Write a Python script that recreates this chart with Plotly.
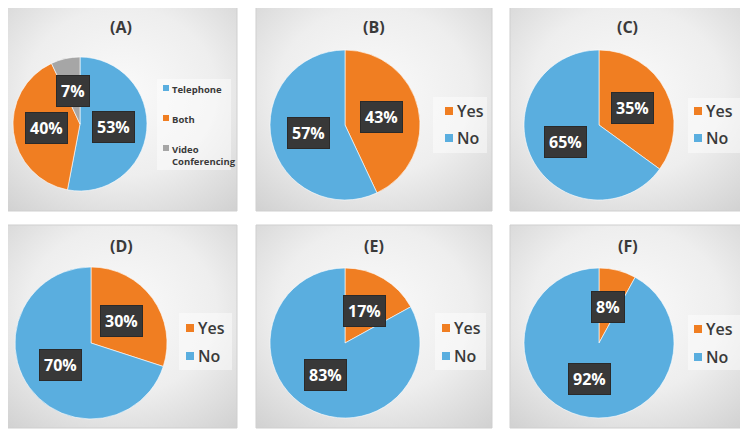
import math
import urllib.parse

import plotly.graph_objects as go

# ---- data ----
panel_titles = ["(A)", "(B)", "(C)", "(D)", "(E)", "(F)"]
mode_labels = ["Telephone", "Both", "Video Conferencing"]
mode_values = [53, 40, 7]
yes_no_labels = ["Yes", "No"]
yes_values = [43, 35, 30, 17, 8]
no_values = [57, 65, 70, 83, 92]

BLUE = "#5AAEDF"
ORANGE = "#F07E22"
GRAY = "#A6A6A6"
TXT = "#3a3a3a"
FONT = "Open Sans"

# the page body has an 8px margin, so the figure is 8px smaller than the window
OFF = 8
W, H = 748 - OFF, 434 - OFF

# layout in page pixels: panel frames, pies (cx, cy, r), legends
panels = [(6, 6, 237, 211), (256, 6, 492, 211), (510, 6, 745, 211),
          (6, 225, 237, 428), (256, 225, 492, 428), (510, 225, 745, 428)]
pies = [(80, 124, 67), (345, 125, 75), (599, 125, 75),
        (91, 343, 76), (345, 343, 75), (599, 343, 75)]
# box, square x, text x, row centres
legends = [((157, 79, 231, 170), 163, 170, [88, 118, 148]),
           ((433, 97, 487, 153), 445, 455, [111, 138]),
           ((688, 98, 740, 153), 694, 704, [111, 138]),
           ((179, 313, 232, 370), 186, 196, [328, 356]),
           ((435, 313, 486, 370), 442, 452, [328, 356]),
           ((688, 315, 740, 370), 694, 704, [329, 357])]


def px(x):
    return (x - OFF) / W


def py(y):
    return 1 - (y - OFF) / H


svg = ("<svg xmlns='http://www.w3.org/2000/svg' width='200' height='200'>"
       "<defs><radialGradient id='g' cx='50%' cy='42%' r='75%'>"
       "<stop offset='0' stop-color='#fafafa'/>"
       "<stop offset='0.55' stop-color='#eeeeee'/>"
       "<stop offset='1' stop-color='#d2d2d2'/></radialGradient></defs>"
       "<rect width='200' height='200' fill='url(#g)'/></svg>")
bg_src = "data:image/svg+xml;charset=utf-8," + urllib.parse.quote(svg)

fig = go.Figure()
images, shapes, annotations = [], [], []

series = [(mode_labels, mode_values, [BLUE, ORANGE, GRAY])]
for y_v, n_v in zip(yes_values, no_values):
    series.append((yes_no_labels, [y_v, n_v], [ORANGE, BLUE]))

for i, (labels, values, colors) in enumerate(series):
    x0, y0, x1, y1 = panels[i]
    cx, cy, r = pies[i]

    images.append(dict(source=bg_src, xref="paper", yref="paper", x=px(x0), y=py(y0),
                       sizex=px(x1) - px(x0), sizey=py(y0) - py(y1),
                       sizing="stretch", layer="below"))
    shapes.append(dict(type="rect", xref="paper", yref="paper", x0=px(x0), x1=px(x1),
                       y0=py(y1), y1=py(y0), line=dict(color="#cfcfcf", width=1)))
    annotations.append(dict(text="<b>" + panel_titles[i] + "</b>", xref="paper", yref="paper",
                            x=px((x0 + x1) / 2), y=py(y0 + 21), xanchor="center",
                            yanchor="middle", showarrow=False,
                            font=dict(family=FONT, size=16, color=TXT)))

    fig.add_trace(go.Pie(
        labels=labels, values=values, sort=False, direction="clockwise", rotation=0,
        marker=dict(colors=colors, line=dict(color="rgba(255,255,255,0.6)", width=1)),
        textinfo="none", hoverinfo="label+percent", showlegend=False,
        domain=dict(x=[px(cx - r), px(cx + r)], y=[py(cy + r), py(cy - r)]),
    ))

    # data labels: dark boxes at half radius on each slice's mid angle
    total = sum(values)
    cum = 0
    for v in values:
        ang = math.radians((cum + v / 2) / total * 360)
        cum += v
        lx = cx + 0.5 * r * math.sin(ang)
        ly = cy - 0.5 * r * math.cos(ang)
        annotations.append(dict(text=f"<b>{round(v / total * 100)}%</b>",
                                xref="paper", yref="paper", x=px(lx), y=py(ly),
                                xanchor="center", yanchor="middle", showarrow=False,
                                borderpad=4, bgcolor="#383838", bordercolor="#2a2a2a",
                                font=dict(family=FONT, size=16, color="white")))

    # legend
    (bx0, by0, bx1, by1), sqx, tx, rows = legends[i]
    shapes.append(dict(type="rect", xref="paper", yref="paper", x0=px(bx0), x1=px(bx1),
                       y0=py(by1), y1=py(by0), line=dict(width=0),
                       fillcolor="rgba(255,255,255,0.45)", layer="below"))
    small = i == 0
    sq = 6 if small else 8
    for lab, col, ry in zip(labels, colors, rows):
        shapes.append(dict(type="rect", xref="paper", yref="paper",
                           x0=px(sqx), x1=px(sqx + sq), y0=py(ry + sq / 2), y1=py(ry - sq / 2),
                           line=dict(width=0), fillcolor=col))
        if small:
            annotations.append(dict(text=lab.replace(" ", "<br>"),
                                    xref="paper", yref="paper", x=px(tx), y=py(ry - 7),
                                    xanchor="left", yanchor="top", align="left",
                                    showarrow=False,
                                    font=dict(family=FONT, size=9.5, color=TXT, weight=700)))
        else:
            annotations.append(dict(text=lab, xref="paper", yref="paper", x=px(tx), y=py(ry),
                                    xanchor="left", yanchor="middle", showarrow=False,
                                    font=dict(family=FONT, size=16, color=TXT, weight=600)))

fig.update_layout(
    width=W, height=H, margin=dict(l=0, r=0, t=0, b=0),
    paper_bgcolor="white", plot_bgcolor="white", showlegend=False,
    images=images, shapes=shapes, annotations=annotations,
)

fig.write_html("out.html")
